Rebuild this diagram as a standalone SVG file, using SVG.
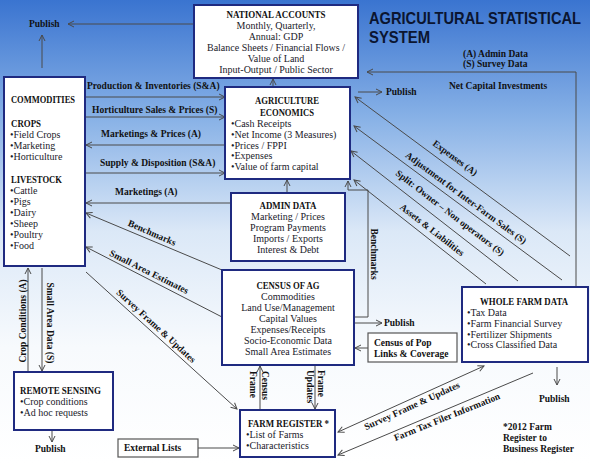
<svg xmlns="http://www.w3.org/2000/svg" width="590" height="463" viewBox="0 0 590 463">
<defs>
<linearGradient id="bg" x1="0" y1="0" x2="0" y2="1">
<stop offset="0" stop-color="#3a74d0"/>
<stop offset="0.25" stop-color="#86b0e6"/>
<stop offset="0.5" stop-color="#dbe8f7"/>
<stop offset="0.75" stop-color="#f7fafd"/>
<stop offset="1" stop-color="#ffffff"/>
</linearGradient>
<marker id="ah" markerWidth="8" markerHeight="8" refX="7" refY="4" orient="auto-start-reverse" markerUnits="userSpaceOnUse">
<path d="M1,1 L7,4 L1,7" fill="none" stroke="#4a4a4a" stroke-width="1"/>
</marker>
<style>
.t{font-family:"Liberation Sans",Arial,sans-serif;font-weight:bold;font-size:14px;fill:#0b1530}
.h{font-family:"Liberation Serif","Times New Roman",serif;font-weight:bold;font-size:10px;fill:#111}
.b{font-family:"Liberation Serif","Times New Roman",serif;font-size:10px;fill:#1a1a2a}
.l{font-family:"Liberation Serif","Times New Roman",serif;font-weight:bold;font-size:9.5px;fill:#111}
.m{text-anchor:middle}
.box{fill:#fff;stroke:#1f2a80;stroke-width:2}
.gbox{fill:#fff;stroke:#555;stroke-width:1.2}
.c{fill:none;stroke:#4a4a4a;stroke-width:1}
</style>
</defs>
<rect x="0" y="0" width="590" height="463" fill="url(#bg)"/>

<g transform="translate(369 24) scale(1 1.15)">
<text class="t" x="0" y="0" textLength="212" lengthAdjust="spacingAndGlyphs">AGRICULTURAL STATISTICAL</text>
</g>
<g transform="translate(369 43) scale(1 1.15)">
<text class="t" x="0" y="0" textLength="61" lengthAdjust="spacingAndGlyphs">SYSTEM</text>
</g>
<text class="l" x="463" y="57">(A) Admin Data</text>
<text class="l" x="463" y="67">(S) Survey Data</text>

<g id="connectors">
<line class="c" x1="193" y1="24" x2="68" y2="24" marker-end="url(#ah)"/>
<line class="c" x1="42" y1="68" x2="42" y2="35" marker-end="url(#ah)"/>
<line class="c" x1="273" y1="87" x2="273" y2="79" marker-end="url(#ah)"/>
<line class="c" x1="358" y1="92" x2="382" y2="92" marker-end="url(#ah)"/>
<path class="c" d="M576,287 V72 H367" marker-end="url(#ah)"/>
<line class="c" x1="85" y1="97" x2="225" y2="97" marker-end="url(#ah)"/>
<line class="c" x1="85" y1="117" x2="225" y2="117" marker-end="url(#ah)"/>
<line class="c" x1="225" y1="145" x2="86" y2="145" marker-end="url(#ah)"/>
<line class="c" x1="85" y1="173" x2="225" y2="173" marker-end="url(#ah)"/>
<line class="c" x1="231" y1="203" x2="86" y2="203" marker-end="url(#ah)"/>
<line class="c" x1="287" y1="193" x2="287" y2="180" marker-end="url(#ah)"/>
<line class="c" x1="570" y1="256" x2="355" y2="97" marker-end="url(#ah)"/>
<line class="c" x1="562" y1="280" x2="354" y2="126" marker-end="url(#ah)"/>
<line class="c" x1="518" y1="281" x2="351" y2="151" marker-end="url(#ah)"/>
<line class="c" x1="486" y1="284" x2="354" y2="180" marker-end="url(#ah)"/>
<path class="c" d="M354,317 H368 V190 H348 V181" marker-end="url(#ah)"/>
<line class="c" x1="222" y1="270" x2="86" y2="213" marker-end="url(#ah)"/>
<line class="c" x1="222" y1="317" x2="86" y2="247" marker-end="url(#ah)"/>
<line class="c" x1="86" y1="272" x2="237" y2="409" marker-end="url(#ah)"/>
<line class="c" x1="28" y1="372" x2="28" y2="268" marker-end="url(#ah)"/>
<line class="c" x1="42" y1="268" x2="42" y2="371" marker-end="url(#ah)"/>
<line class="c" x1="52" y1="430" x2="52" y2="442" marker-end="url(#ah)"/>
<line class="c" x1="354" y1="323" x2="382" y2="323" marker-end="url(#ah)"/>
<line class="c" x1="368" y1="348" x2="355" y2="348" marker-end="url(#ah)"/>
<line class="c" x1="260" y1="410" x2="260" y2="366" marker-end="url(#ah)"/>
<line class="c" x1="315" y1="365" x2="315" y2="409" marker-end="url(#ah)"/>
<line class="c" x1="198" y1="448" x2="239" y2="448" marker-end="url(#ah)"/>
<line class="c" x1="338" y1="432" x2="484" y2="366" marker-start="url(#ah)" marker-end="url(#ah)"/>
<line class="c" x1="533" y1="373" x2="338" y2="455" marker-end="url(#ah)"/>
<line class="c" x1="557" y1="367" x2="557" y2="385" marker-end="url(#ah)"/>

<text class="l" x="87" y="89">Production &amp; Inventories (S&amp;A)</text>
<text class="l" x="92" y="113">Horticulture Sales &amp; Prices (S)</text>
<text class="l" x="101" y="137">Marketings &amp; Prices (A)</text>
<text class="l" x="100" y="166">Supply &amp; Disposition (S&amp;A)</text>
<text class="l" x="115" y="195">Marketings (A)</text>
<text class="l" x="449" y="89">Net Capital Investments</text>
<text class="l" x="386" y="95">Publish</text>
<text class="l" x="29" y="27">Publish</text>
<text class="l" x="35" y="452">Publish</text>
<text class="l" x="384" y="326">Publish</text>
<text class="l" x="539" y="402">Publish</text>
<text class="l m" transform="rotate(36.5 455 158)" x="455" y="161">Expenses (A)</text>
<text class="l m" transform="rotate(36.5 466 198)" x="466" y="201">Adjustment for Inter-Farm Sales (S)</text>
<text class="l m" transform="rotate(37.5 450 213)" x="450" y="216">Split: Owner – Non operators (S)</text>
<text class="l m" transform="rotate(38 432 230)" x="432" y="233">Assets &amp; Liabilities</text>
<text class="l m" transform="rotate(90 371 254)" x="371" y="254">Benchmarks</text>
<text class="l m" transform="rotate(23.5 152 233)" x="152" y="236">Benchmarks</text>
<text class="l m" transform="rotate(26.5 149 272)" x="149" y="275">Small Area Estimates</text>
<text class="l m" transform="rotate(42.5 156 326)" x="156" y="329">Survey Frame &amp; Updates</text>
<text class="l m" transform="rotate(-90 26 321)" x="26" y="321">Crop Conditions (A)</text>
<text class="l m" transform="rotate(90 47 323)" x="47" y="323">Small Area Data (S)</text>
<text class="l" transform="rotate(90 262 371)" x="262" y="371">Census</text>
<text class="l" transform="rotate(90 250 371)" x="250" y="371">Frame</text>
<text class="l" transform="rotate(90 318 370)" x="318" y="370">Frame</text>
<text class="l" transform="rotate(90 307 370)" x="307" y="370">Updates</text>
<text class="l m" transform="rotate(-24.5 412 406)" x="412" y="409">Survey Frame &amp; Updates</text>
<text class="l m" transform="rotate(-22 447 417)" x="447" y="420">Farm Tax Filer Information</text>
</g>

<g id="national-accounts">
<rect class="box" x="194" y="5" width="164" height="73"/>
<text class="h m" x="276" y="18" textLength="99" lengthAdjust="spacingAndGlyphs">NATIONAL ACCOUNTS</text>
<text class="b m" x="276" y="29">Monthly, Quarterly,</text>
<text class="b m" x="276" y="40">Annual: GDP</text>
<text class="b m" x="276" y="51">Balance Sheets  / Financial Flows /</text>
<text class="b m" x="276" y="62">Value of Land</text>
<text class="b m" x="276" y="73">Input-Output / Public Sector</text>
</g>

<g id="commodities">
<rect class="box" x="4" y="77" width="81" height="189"/>
<text class="h" x="11" y="103" textLength="64" lengthAdjust="spacingAndGlyphs">COMMODITIES</text>
<text class="h" x="11" y="127" textLength="30" lengthAdjust="spacingAndGlyphs">CROPS</text>
<text class="b" x="10" y="138">•Field Crops</text>
<text class="b" x="10" y="149">•Marketing</text>
<text class="b" x="10" y="160">•Horticulture</text>
<text class="h" x="11" y="183" textLength="51" lengthAdjust="spacingAndGlyphs">LIVESTOCK</text>
<text class="b" x="10" y="194">•Cattle</text>
<text class="b" x="10" y="205">•Pigs</text>
<text class="b" x="10" y="216">•Dairy</text>
<text class="b" x="10" y="227">•Sheep</text>
<text class="b" x="10" y="238">•Poultry</text>
<text class="b" x="10" y="249">•Food</text>
</g>

<g id="agriculture-economics">
<rect class="box" x="225" y="87" width="125" height="92"/>
<text class="h m" x="287" y="104" textLength="64" lengthAdjust="spacingAndGlyphs">AGRICULTURE</text>
<text class="h m" x="287" y="116" textLength="54" lengthAdjust="spacingAndGlyphs">ECONOMICS</text>
<text class="b" x="231" y="127">•Cash Receipts</text>
<text class="b" x="231" y="138">•Net Income (3 Measures)</text>
<text class="b" x="231" y="149">•Prices / FPPI</text>
<text class="b" x="231" y="159">•Expenses</text>
<text class="b" x="231" y="170">•Value of farm capital</text>
</g>

<g id="admin-data">
<rect class="box" x="231" y="193" width="114" height="68"/>
<text class="h m" x="288" y="209" textLength="57" lengthAdjust="spacingAndGlyphs">ADMIN DATA</text>
<text class="b m" x="288" y="220">Marketing / Prices</text>
<text class="b m" x="288" y="231">Program Payments</text>
<text class="b m" x="288" y="242">Imports / Exports</text>
<text class="b m" x="288" y="253">Interest &amp; Debt</text>
</g>

<g id="census-of-ag">
<rect class="box" x="222" y="270" width="132" height="95"/>
<text class="h m" x="288" y="289" textLength="63" lengthAdjust="spacingAndGlyphs">CENSUS OF AG</text>
<text class="b m" x="288" y="300">Commodities</text>
<text class="b m" x="288" y="311">Land Use/Management</text>
<text class="b m" x="288" y="322">Capital Values</text>
<text class="b m" x="288" y="333">Expenses/Receipts</text>
<text class="b m" x="288" y="344">Socio-Economic Data</text>
<text class="b m" x="288" y="355">Small Area Estimates</text>
</g>

<g id="census-of-pop">
<rect class="gbox" x="368" y="333" width="89" height="29"/>
<text class="l" x="374" y="346">Census of Pop</text>
<text class="l" x="374" y="357">Links &amp; Coverage</text>
</g>

<g id="whole-farm-data">
<rect class="box" x="462" y="287" width="126" height="75"/>
<text class="h m" x="524" y="305" textLength="88" lengthAdjust="spacingAndGlyphs">WHOLE FARM DATA</text>
<text class="b" x="467" y="316">•Tax Data</text>
<text class="b" x="467" y="327">•Farm Financial Survey</text>
<text class="b" x="467" y="338">•Fertilizer Shipments</text>
<text class="b" x="467" y="348">•Cross Classified Data</text>
</g>

<g id="remote-sensing">
<rect class="box" x="14" y="372" width="99" height="58"/>
<text class="h" x="20" y="394" textLength="81" lengthAdjust="spacingAndGlyphs">REMOTE SENSING</text>
<text class="b" x="20" y="405">•Crop conditions</text>
<text class="b" x="20" y="416">•Ad hoc requests</text>
</g>

<g id="farm-register">
<rect class="box" x="240" y="410" width="95" height="47"/>
<text class="h" x="248" y="427" textLength="81" lengthAdjust="spacingAndGlyphs">FARM REGISTER *</text>
<text class="b" x="246" y="438">•List of Farms</text>
<text class="b" x="246" y="449">•Characteristics</text>
</g>

<g id="external-lists">
<rect class="gbox" x="118" y="439" width="80" height="18"/>
<text class="l" x="124" y="451">External Lists</text>
</g>

<g id="note">
<text class="l" x="503" y="430">*2012 Farm</text>
<text class="l" x="503" y="441">Register to</text>
<text class="l" x="503" y="452">Business Register</text>
</g>
</svg>
